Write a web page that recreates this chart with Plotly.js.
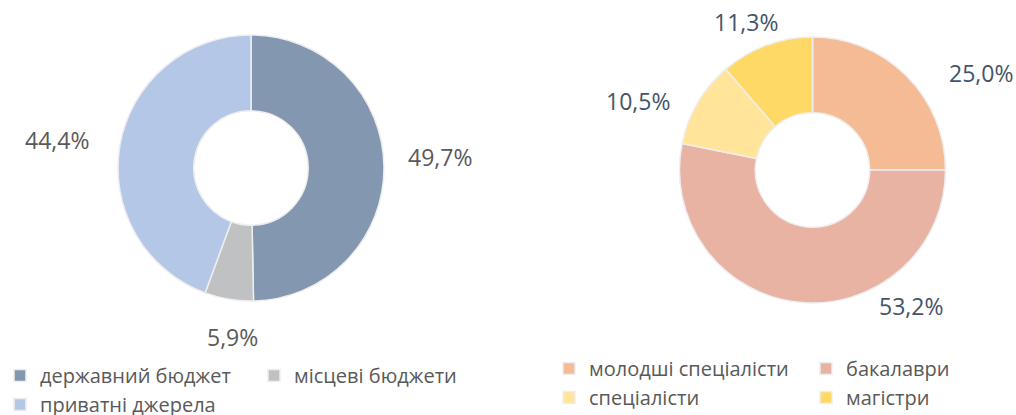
<!DOCTYPE html>
<html>
<head>
<meta charset="utf-8">
<script src="https://cdn.plot.ly/plotly-3.0.1.min.js"></script>
<style>
html,body{margin:0;padding:0;background:#fff;}
#wrap{position:relative;width:1016px;height:415px;overflow:hidden;background:#fff;}
#left,#right{position:absolute;top:0;height:415px;}
#left{left:0;width:520px;}
#right{left:496px;width:520px;}
</style>
</head>
<body>
<div id="wrap"><div id="left"></div><div id="right"></div></div>
<script>
// Data
const fundingLabels = ["державний бюджет", "місцеві бюджети", "приватні джерела"];
const fundingValues = [49.7, 5.9, 44.4];
const studentLabels = ["молодші спеціалісти", "бакалаври", "спеціалісти", "магістри"];
const studentValues = [25.0, 53.2, 10.5, 11.3];

// Styles / layout (pixel positions in the 1016x415 figure)
const fundingColors = ["#8497B0", "#C0C1C3", "#B4C7E7"];
const studentColors = ["#F4BB94", "#E8B3A3", "#FFE49A", "#FFD966"];
const H = 415;
const font = '"Open Sans", "Noto Sans", sans-serif';

function fmt(v) { return v.toFixed(1).replace('.', ',') + '%'; }

function drawDonut(cfg) {
  const gd = document.getElementById(cfg.id);
  const W = cfg.width;
  const trace = s => ({
    type: 'pie', labels: cfg.labels, values: cfg.values, sort: false,
    direction: 'clockwise', rotation: 0, hole: 0.43,
    marker: {colors: cfg.colors, line: {color: '#EEEEEE', width: 1.5}},
    textinfo: 'none', hoverinfo: 'label+percent',
    domain: {
      x: [(cfg.box[0] - cfg.left - s.l) / s.w, (cfg.box[1] - cfg.left - s.l) / s.w],
      y: [(s.t + s.h - cfg.box[3]) / s.h, (s.t + s.h - cfg.box[2]) / s.h]
    }
  });
  const annotations = s => cfg.values.map((v, i) => ({
    xref: 'paper', yref: 'paper',
    x: (cfg.labelPos[i][0] - cfg.left - s.l) / s.w, y: (s.t + s.h - cfg.labelPos[i][1]) / s.h,
    xanchor: 'center', yanchor: 'middle', text: fmt(v), showarrow: false,
    font: {family: font, size: 23, color: cfg.labelColor}
  }));
  const layout = {
    width: W, height: H,
    margin: {l: 0, r: 0, t: 0, b: 0},
    paper_bgcolor: 'rgba(0,0,0,0)', plot_bgcolor: 'rgba(0,0,0,0)',
    showlegend: true,
    font: {family: font, color: '#595959'},
    legend: {
      orientation: 'h', xref: 'container', yref: 'container',
      x: (cfg.legendX - cfg.left) / W, y: 1 - cfg.legendTop / H, xanchor: 'left', yanchor: 'top',
      entrywidth: cfg.entry, entrywidthmode: 'pixels',
      font: {family: font, size: 20, color: '#595959'}, bgcolor: 'rgba(0,0,0,0)', traceorder: 'normal'
    }
  };
  const conf = {displayModeBar: false, staticPlot: true};
  return Plotly.newPlot(gd, [trace({l: 0, t: 0, w: W, h: H})], layout, conf).then(() => {
    const s = gd._fullLayout._size;
    layout.annotations = annotations(s);
    return Plotly.react(gd, [trace(s)], layout, conf);
  });
}

drawDonut({
  id: 'left', left: 0, width: 520,
  labels: fundingLabels, values: fundingValues, colors: fundingColors,
  box: [118, 384, 35, 301],
  labelPos: [[440, 157], [232, 337], [57, 140]], labelColor: '#595959',
  legendX: -10, legendTop: 356, entry: 209
});
drawDonut({
  id: 'right', left: 496, width: 520,
  labels: studentLabels, values: studentValues, colors: studentColors,
  box: [679, 946, 37, 303],
  labelPos: [[981, 73], [911, 306], [638, 101], [746, 22]], labelColor: '#44546A',
  legendX: 549, legendTop: 349, entry: 212
});
</script>
</body>
</html>
